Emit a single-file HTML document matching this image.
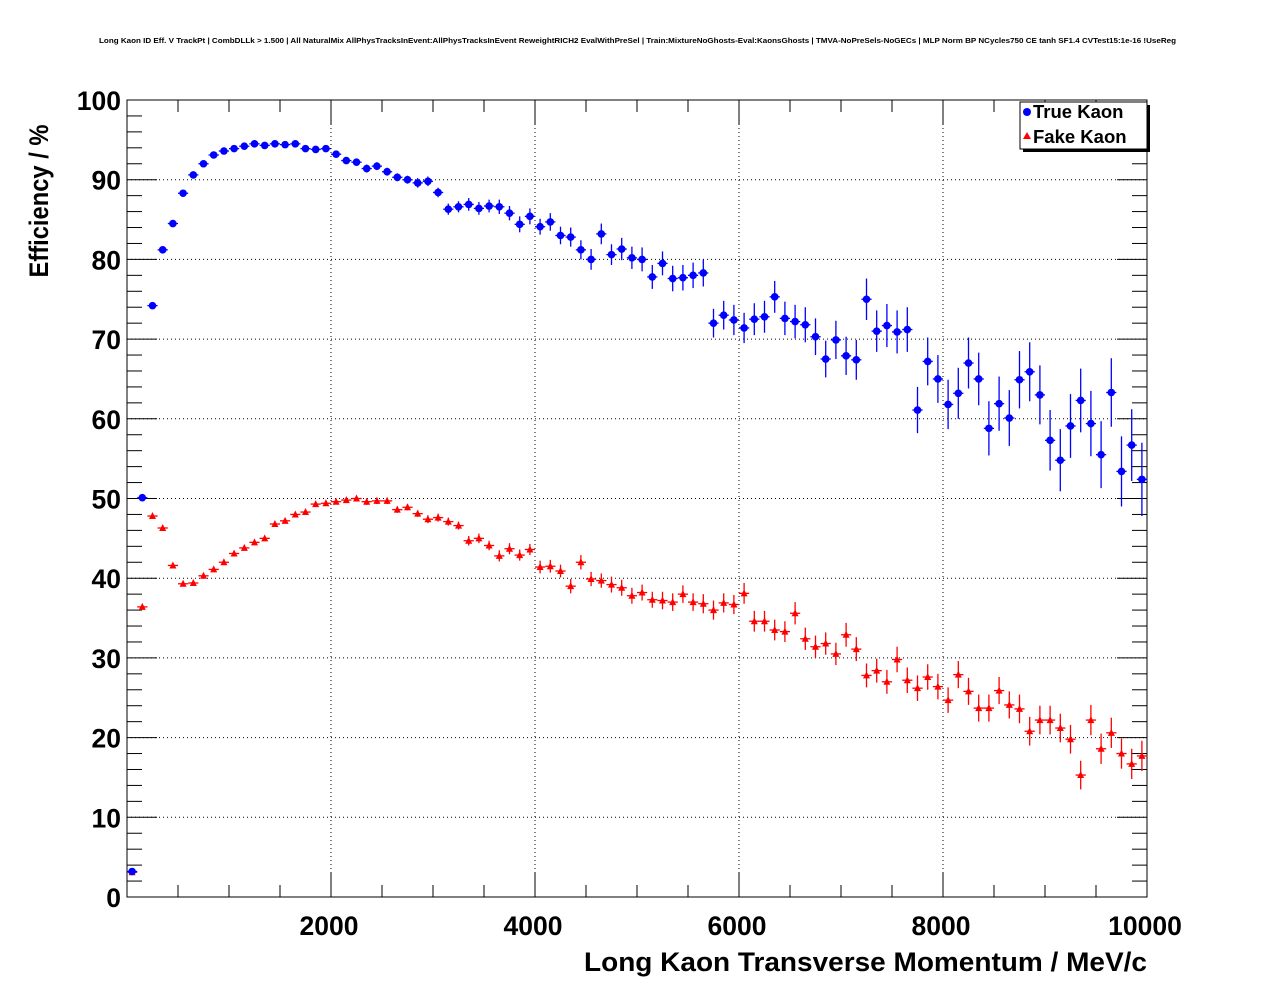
<!DOCTYPE html>
<html><head><meta charset="utf-8"><style>
html,body{margin:0;padding:0;background:#fff;}
svg{display:block;font-family:"Liberation Sans",sans-serif;}
</style></head><body>
<svg id="c" width="1276" height="996" viewBox="0 0 1276 996" xmlns="http://www.w3.org/2000/svg">
<rect x="0" y="0" width="1276" height="996" fill="#fff"/>
<text x="99" y="43" textLength="1077" lengthAdjust="spacingAndGlyphs" font-size="7.5" font-weight="bold">Long Kaon ID Eff. V TrackPt | CombDLLk &gt; 1.500 | All NaturalMix AllPhysTracksInEvent:AllPhysTracksInEvent ReweightRICH2 EvalWithPreSel | Train:MixtureNoGhosts-Eval:KaonsGhosts | TMVA-NoPreSels-NoGECs | MLP Norm BP NCycles750 CE tanh SF1.4 CVTest15:1e-16 !UseReg</text>
<g id="grid"></g>
<g id="axes"></g>
<g id="series"></g>
<text x="48" y="201" transform="rotate(-90 48 201)" text-anchor="middle" textLength="153" lengthAdjust="spacingAndGlyphs" font-size="27" font-weight="bold">Efficiency / %</text>
<text x="584" y="971" textLength="563" lengthAdjust="spacingAndGlyphs" font-size="27" font-weight="bold">Long Kaon Transverse Momentum / MeV/c</text>
<g>
<rect x="1023" y="105" width="127" height="47" fill="#000"/>
<rect x="1020" y="102" width="127" height="47" fill="#fff" stroke="#000" stroke-width="1"/>
<g>
<circle cx="1027" cy="112" r="4" fill="#0000ff"/>
<text x="1033" y="118" font-size="18.5" font-weight="bold">True Kaon</text></g>
<g>
<polygon points="1027,132 1031,139 1023,139" fill="#ff0000"/>
<text x="1033" y="143" font-size="18.5" font-weight="bold">Fake Kaon</text></g>
</g>
</svg>
<script>
const binCenters = [];
for (let i = 0; i < 100; i++) binCenters.push(50 + i * 100);
const trueKaon = [3.2,50.1,74.2,81.2,84.5,88.3,90.6,92.0,93.1,93.6,93.9,94.2,94.5,94.3,94.5,94.4,94.5,93.9,93.8,93.9,93.2,92.4,92.2,91.4,91.7,91.0,90.3,90.0,89.6,89.8,88.4,86.3,86.6,86.9,86.4,86.7,86.6,85.8,84.4,85.4,84.1,84.7,83.0,82.8,81.2,80.0,83.2,80.6,81.3,80.2,80.0,77.8,79.5,77.6,77.7,78.0,78.3,72.0,73.0,72.4,71.4,72.5,72.8,75.3,72.6,72.2,71.8,70.3,67.5,69.9,67.9,67.4,75.0,71.0,71.7,70.9,71.2,61.1,67.2,65.0,61.8,63.2,67.0,65.0,58.8,61.9,60.1,64.9,65.9,63.0,57.3,54.8,59.1,62.3,59.4,55.5,63.3,53.4,56.7,52.4];
const trueErr = [0.3,0.3,0.3,0.3,0.3,0.3,0.3,0.3,0.3,0.3,0.3,0.3,0.3,0.3,0.3,0.3,0.3,0.4,0.4,0.4,0.4,0.4,0.4,0.5,0.5,0.5,0.5,0.5,0.6,0.6,0.6,0.7,0.7,0.8,0.8,0.8,0.9,0.9,1.0,1.0,1.0,1.1,1.1,1.2,1.2,1.3,1.3,1.3,1.4,1.4,1.5,1.5,1.5,1.6,1.6,1.6,1.7,1.8,1.8,1.9,1.9,2.0,2.0,2.0,2.1,2.1,2.2,2.3,2.3,2.4,2.4,2.5,2.6,2.6,2.7,2.7,2.8,2.9,3.0,3.0,3.1,3.2,3.2,3.3,3.4,3.4,3.5,3.6,3.7,3.7,3.8,3.9,4.0,4.0,4.1,4.2,4.3,4.4,4.5,4.6];
const fakeKaon = [3.1,36.4,47.8,46.3,41.6,39.3,39.4,40.3,41.1,42.0,43.1,43.8,44.5,45.0,46.8,47.2,48.0,48.3,49.3,49.4,49.6,49.8,50.0,49.6,49.7,49.7,48.6,48.9,48.1,47.4,47.6,47.1,46.6,44.7,45.0,44.1,42.8,43.7,42.9,43.6,41.4,41.5,40.9,39.0,42.0,39.9,39.7,39.2,38.8,37.8,38.2,37.3,37.2,37.0,38.0,37.0,36.8,36.0,36.9,36.7,38.1,34.6,34.6,33.5,33.3,35.6,32.4,31.4,31.8,30.5,32.9,31.1,27.8,28.4,27.0,29.8,27.2,26.2,27.6,26.4,24.7,27.9,25.8,23.7,23.7,25.9,24.1,23.6,20.8,22.2,22.2,21.2,19.8,15.3,22.2,18.6,20.6,18.0,16.7,17.7];
const fakeErr = [0.2,0.2,0.2,0.2,0.2,0.2,0.2,0.2,0.2,0.2,0.2,0.2,0.2,0.2,0.3,0.3,0.3,0.3,0.3,0.3,0.3,0.3,0.3,0.4,0.4,0.4,0.4,0.4,0.4,0.5,0.5,0.5,0.5,0.6,0.6,0.6,0.7,0.7,0.7,0.7,0.8,0.8,0.8,0.9,0.9,0.9,0.9,1.0,1.0,1.0,1.0,1.0,1.1,1.1,1.1,1.1,1.2,1.2,1.2,1.2,1.3,1.3,1.3,1.3,1.3,1.4,1.4,1.4,1.4,1.4,1.5,1.5,1.5,1.5,1.5,1.6,1.6,1.6,1.6,1.6,1.6,1.7,1.7,1.7,1.7,1.7,1.7,1.8,1.8,1.8,1.8,1.8,1.8,1.8,1.9,1.9,1.9,1.9,1.9,1.9];
const xTicks = [2000,4000,6000,8000,10000];
const yTicks = [0,10,20,30,40,50,60,70,80,90,100];

const NS = "http://www.w3.org/2000/svg";
const L = 127, R = 1147, T = 100, B = 897;
const xs = v => L + (v - 0) / 10000 * (R - L);
const ys = v => B - v / 100 * (B - T);
function mk(tag, attrs, parent) { const e = document.createElementNS(NS, tag); for (const k in attrs) e.setAttribute(k, attrs[k]); parent.appendChild(e); return e; }
const grid = document.getElementById('grid'), axes = document.getElementById('axes'), ser = document.getElementById('series');

xTicks.forEach(v => {
  const g = mk('line', {x1: xs(v), x2: xs(v), y1: T, y2: B, stroke: '#000', 'stroke-width': 1, 'stroke-dasharray': '1,3'}, grid);
  
  
  const t = mk('text', {x: xs(v) - 2, y: 935, 'text-anchor': 'middle', 'font-size': 26.5, 'font-weight': 'bold'}, axes);
  t.textContent = v;
  
  
});
yTicks.forEach(v => {
  if (v > 0 && v < 100) {
    const g = mk('line', {x1: L, x2: R, y1: ys(v), y2: ys(v), stroke: '#000', 'stroke-width': 1, 'stroke-dasharray': '1,3'}, grid);
    
    
  }
  const t = mk('text', {x: 121, y: ys(v) + 10, 'text-anchor': 'end', 'font-size': 26.5, 'font-weight': 'bold'}, axes);
  t.textContent = v;
  
  
});
for (let v = 500; v <= 10000; v += 500) {
  const len = (v % 2000 === 0) ? 24 : 12;
  mk('line', {x1: xs(v), x2: xs(v), y1: B, y2: B - len, stroke: '#000', 'stroke-width': 1}, axes);
  mk('line', {x1: xs(v), x2: xs(v), y1: T, y2: T + len, stroke: '#000', 'stroke-width': 1}, axes);
}
for (let v = 0; v <= 100; v += 2) {
  const len = (v % 10 === 0) ? 30 : 15;
  mk('line', {x1: L, x2: L + len, y1: ys(v), y2: ys(v), stroke: '#000', 'stroke-width': 1}, axes);
  mk('line', {x1: R, x2: R - len, y1: ys(v), y2: ys(v), stroke: '#000', 'stroke-width': 1}, axes);
}
const frame = mk('rect', {x: L, y: T, width: R - L, height: B - T, fill: 'none', stroke: '#000', 'stroke-width': 1}, axes);



function drawSeries(vals, errs, color, shape, name) {
  vals.forEach((v, i) => {
    const cx = xs(binCenters[i]), cy = ys(v);
    const g = mk('g', {}, ser);
    
    
    mk('line', {x1: xs(binCenters[i] - 50), x2: xs(binCenters[i] + 50), y1: cy, y2: cy, stroke: color, 'stroke-width': 1.3}, g);
    mk('line', {x1: cx, x2: cx, y1: ys(v - errs[i]), y2: ys(v + errs[i]), stroke: color, 'stroke-width': 1.3}, g);
    if (shape === 'circle') mk('circle', {cx: cx, cy: cy, r: 3.8, fill: color}, g);
    else mk('polygon', {points: `${cx},${cy - 4} ${cx + 3.5},${cy + 3} ${cx - 3.5},${cy + 3}`, fill: color}, g);
  });
}
drawSeries(fakeKaon, fakeErr, '#ff0000', 'tri', 'fake-kaon');
drawSeries(trueKaon, trueErr, '#0000ff', 'circle', 'true-kaon');
</script>
</body></html>
